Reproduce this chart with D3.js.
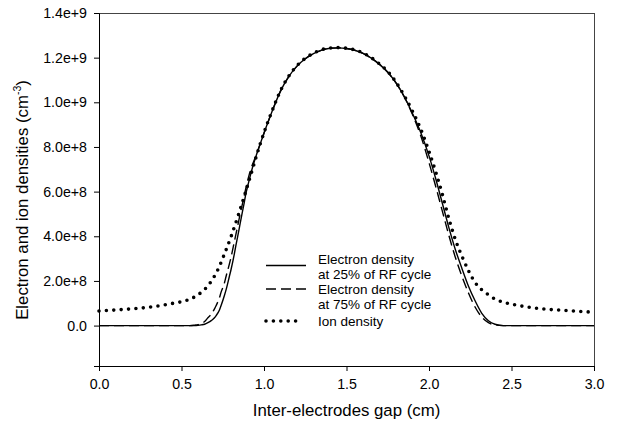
<!DOCTYPE html>
<html>
<head>
<meta charset="utf-8">
<script src="https://cdn.jsdelivr.net/npm/d3@7"></script>
<style>
  body { margin: 0; background: #fff; }
  text { font-family: Arial, "Liberation Sans", sans-serif; fill: #000; }
</style>
</head>
<body>
<div id="chart"></div>
<script>
// x positions (cm) and densities (cm^-3)
const xElectron = [0, 0.55, 0.58, 0.6, 0.62, 0.64, 0.66, 0.68, 0.7, 0.71, 0.73, 0.74, 0.76, 0.77, 0.79, 0.8, 0.82, 0.83, 0.85, 0.86, 0.88, 0.89, 0.91, 0.92, 0.95, 0.98, 1.02, 1.06, 1.1, 1.15, 1.2, 1.25, 1.3, 1.35, 1.4, 1.45, 1.5, 1.55, 1.6, 1.65, 1.7, 1.75, 1.8, 1.85, 1.9, 1.95, 2.0, 2.04, 2.08, 2.12, 2.16, 2.2, 2.24, 2.28, 2.32, 2.36, 2.4, 2.45, 3.0];
const e25 = [0, 0, 0, 1e6, 3e6, 6e6, 1.3e7, 2.2e7, 3.5e7, 4.5e7, 7e7, 9e7, 1.35e8, 1.6e8, 2.2e8, 2.5e8, 3.2e8, 3.6e8, 4.35e8, 4.75e8, 5.5e8, 5.9e8, 6.5e8, 6.8e8, 7.55e8, 8.2e8, 9.03e8, 9.8e8, 1.05e9, 1.115e9, 1.162e9, 1.195e9, 1.218e9, 1.234e9, 1.242e9, 1.244e9, 1.241e9, 1.233e9, 1.219e9, 1.198e9, 1.17e9, 1.135e9, 1.087e9, 1.025e9, 9.5e8, 8.65e8, 7.6e8, 6.6e8, 5.5e8, 4.4e8, 3.4e8, 2.55e8, 1.75e8, 1.1e8, 5.5e7, 2.2e7, 6e6, 0, 0];
const e75 = [0, 0, 2e6, 4e6, 1e7, 1.8e7, 3.5e7, 5e7, 7.5e7, 9e7, 1.25e8, 1.5e8, 1.9e8, 2.2e8, 2.75e8, 3.05e8, 3.75e8, 4.1e8, 4.8e8, 5.15e8, 5.8e8, 6.15e8, 6.75e8, 7e8, 7.58e8, 8.2e8, 9.03e8, 9.8e8, 1.05e9, 1.115e9, 1.162e9, 1.195e9, 1.218e9, 1.234e9, 1.242e9, 1.244e9, 1.241e9, 1.233e9, 1.219e9, 1.198e9, 1.17e9, 1.135e9, 1.087e9, 1.025e9, 9.45e8, 8.5e8, 7.3e8, 6.25e8, 5.15e8, 4.05e8, 3.05e8, 2.2e8, 1.45e8, 8.2e7, 3.8e7, 1.3e7, 3e6, 0, 0];

const xIon = [0, 0.1, 0.2, 0.3, 0.4, 0.45, 0.5, 0.55, 0.6, 0.64, 0.68, 0.72, 0.76, 0.8, 0.84, 0.88, 0.92, 0.95, 0.98, 1.02, 1.06, 1.1, 1.15, 1.2, 1.25, 1.3, 1.35, 1.4, 1.45, 1.5, 1.55, 1.6, 1.65, 1.7, 1.75, 1.8, 1.85, 1.9, 1.95, 2.0, 2.04, 2.08, 2.12, 2.16, 2.2, 2.24, 2.28, 2.32, 2.36, 2.4, 2.45, 2.5, 2.6, 2.7, 2.8, 2.9, 3.0];
const ion = [6.5e7, 7.0e7, 7.5e7, 8.2e7, 9.3e7, 1.0e8, 1.07e8, 1.18e8, 1.38e8, 1.62e8, 1.98e8, 2.5e8, 3.2e8, 3.98e8, 4.85e8, 5.78e8, 6.75e8, 7.5e8, 8.2e8, 9.05e8, 9.82e8, 1.052e9, 1.117e9, 1.164e9, 1.197e9, 1.22e9, 1.236e9, 1.243e9, 1.245e9, 1.242e9, 1.235e9, 1.221e9, 1.2e9, 1.172e9, 1.138e9, 1.09e9, 1.03e9, 9.6e8, 8.8e8, 7.8e8, 6.9e8, 5.9e8, 4.8e8, 3.85e8, 3.1e8, 2.45e8, 1.92e8, 1.6e8, 1.38e8, 1.19e8, 1.05e8, 9.6e7, 8.3e7, 7.4e7, 6.9e7, 6.4e7, 6.0e7];

const xTicks = [0, 0.5, 1.0, 1.5, 2.0, 2.5, 3.0];
const yTicks = [0, 2e8, 4e8, 6e8, 8e8, 1.0e9, 1.2e9, 1.4e9];

const legendLabels = [
  ["Electron density", "at 25% of RF cycle"],
  ["Electron density", "at 75% of RF cycle"],
  ["Ion density"]
];

const width = 618, height = 427;
const margin = { top: 13, right: 24, bottom: 61, left: 99 };
const yMin = -1.81e8, yMax = 1.4e9;

const svg = d3.select("#chart").append("svg")
  .attr("width", width)
  .attr("height", height);

const x = d3.scaleLinear().domain([0, 3]).range([margin.left, width - margin.right]);
const y = d3.scaleLinear().domain([yMin, yMax]).range([height - margin.bottom, margin.top]);

// tick labels like 0.0, 2.0e+8, 1.2e+9
const fmtY = d => d === 0 ? "0.0" : d3.format(".1e")(d);

// frame
svg.append("rect")
  .attr("x", x(0)).attr("y", y(yMax))
  .attr("width", x(3) - x(0)).attr("height", y(yMin) - y(yMax))
  .attr("fill", "none").attr("stroke", "#444").attr("stroke-width", 1)
  .attr("shape-rendering", "crispEdges");

const xAxis = svg.append("g")
  .attr("transform", `translate(0,${height - margin.bottom})`)
  .call(d3.axisBottom(x).tickValues(xTicks).tickFormat(d3.format(".1f")).tickSize(5).tickPadding(8));

const yAxis = svg.append("g")
  .attr("transform", `translate(${margin.left},0)`)
  .call(d3.axisLeft(y).tickValues(yTicks).tickFormat(fmtY).tickSize(5).tickPadding(7));

[xAxis, yAxis].forEach(g => {
  g.select(".domain").attr("stroke", "#000");
  g.selectAll(".tick line").attr("stroke", "#000");
  g.selectAll("text").style("font-size", "14.2px").style("font-family", "Arial, 'Liberation Sans', sans-serif");
});

const line = d3.line().x(d => x(d[0])).y(d => y(d[1])).curve(d3.curveMonotoneX);

const series = [
  { xs: xElectron, ys: e25, dash: null, w: 1.4, dots: false },
  { xs: xElectron, ys: e75, dash: "10,5", w: 1.4, dots: false },
  { xs: xIon, ys: ion, dash: "0,7.4", w: 3.6, dots: true }
];

svg.append("g").selectAll("path")
  .data(series)
  .join("path")
  .attr("d", s => line(s.xs.map((v, i) => [v, s.ys[i]])))
  .attr("fill", "none")
  .attr("stroke", "#000")
  .attr("stroke-width", s => s.w)
  .attr("stroke-linecap", s => s.dots ? "round" : "butt")
  .attr("stroke-dasharray", s => s.dash);

// legend
const lg = svg.append("g");
const rowY = [265.5, 289, 321];
const textY = [[264, 279], [294, 309], [326]];
series.forEach((s, i) => {
  lg.append("line")
    .attr("x1", 266).attr("x2", s.dots ? 302 : 306)
    .attr("y1", rowY[i]).attr("y2", rowY[i])
    .attr("stroke", "#000")
    .attr("stroke-width", s.w)
    .attr("stroke-linecap", s.dots ? "round" : "butt")
    .attr("stroke-dasharray", s.dash);
  legendLabels[i].forEach((t, j) => {
    lg.append("text")
      .attr("x", 318).attr("y", textY[i][j])
      .style("font-size", "13.5px")
      .text(t);
  });
});

// axis titles
svg.append("text")
  .attr("x", (x(0) + x(3)) / 2).attr("y", 416)
  .attr("text-anchor", "middle")
  .style("font-size", "16.8px")
  .text("Inter-electrodes gap (cm)");

const yt = svg.append("text")
  .attr("transform", "translate(28,200) rotate(-90)")
  .attr("text-anchor", "middle")
  .style("font-size", "16.8px");
yt.append("tspan").text("Electron and ion densities (cm");
yt.append("tspan").attr("dy", -7).style("font-size", "10.5px").text("-3");
yt.append("tspan").attr("dy", 7).text(")");
</script>
</body>
</html>
